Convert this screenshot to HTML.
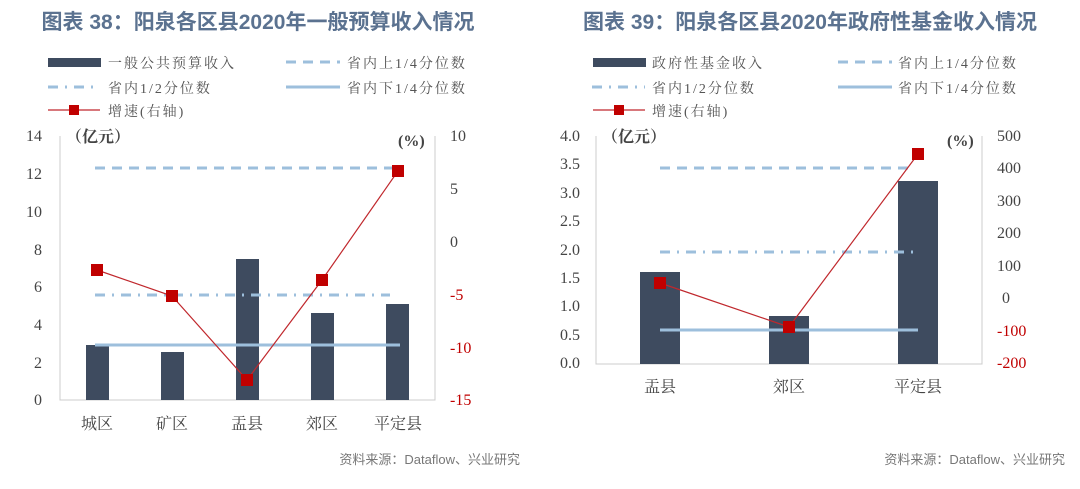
<!DOCTYPE html>
<html><head><meta charset="utf-8"><style>
body{margin:0;background:#fff;}
svg{display:block;font-family:"Liberation Serif","Noto Serif CJK SC",serif;}
.t{font-family:"Liberation Sans","Noto Sans CJK SC",sans-serif;font-size:21px;fill:#5b7290;font-weight:bold}
.lg{font-size:14px;fill:#555;letter-spacing:2px}
.ax{font-size:16px;fill:#444}
.rd{fill:#c00000}
.src{font-family:"Liberation Sans","Noto Sans CJK SC",sans-serif;font-size:13px;fill:#777}
</style></head><body>
<svg width="1080" height="489" viewBox="0 0 1080 489">
<!-- LEFT -->
<text class="t" x="258" y="29" text-anchor="middle">图表 38：阳泉各区县2020年一般预算收入情况</text>
<rect x="48" y="58" width="53" height="9" fill="#3e4b5f"/><text class="lg" x="108" y="68">一般公共预算收入</text>
<line x1="286" y1="62" x2="340" y2="62" stroke="#9dbfdc" stroke-width="3" stroke-dasharray="10,7"/><text class="lg" x="347" y="68">省内上1/4分位数</text>
<line x1="48" y1="87" x2="100" y2="87" stroke="#9dbfdc" stroke-width="3" stroke-dasharray="10,7,2,7"/><text class="lg" x="108" y="93">省内1/2分位数</text>
<line x1="286" y1="87" x2="340" y2="87" stroke="#9dbfdc" stroke-width="3"/><text class="lg" x="347" y="93">省内下1/4分位数</text>
<line x1="48" y1="110" x2="100" y2="110" stroke="#c0282d" stroke-width="1.2"/><rect x="69" y="105" width="10" height="10" fill="#c00000"/><text class="lg" x="108" y="116">增速(右轴)</text>
<polyline points="60,136 60,400 435,400 435,136" fill="none" stroke="#ccc"/>
<g fill="#3e4b5f">
<rect x="86" y="345" width="23" height="55"/><rect x="161" y="352" width="23" height="48"/><rect x="236" y="259" width="23" height="141"/><rect x="311" y="313" width="23" height="87"/><rect x="386" y="304" width="23" height="96"/></g>
<line x1="95" y1="168" x2="400" y2="168" stroke="#9dbfdc" stroke-width="3" stroke-dasharray="10,7"/>
<line x1="95" y1="295" x2="390" y2="295" stroke="#9dbfdc" stroke-width="3" stroke-dasharray="10,7,2,7"/>
<line x1="95" y1="345" x2="400" y2="345" stroke="#9dbfdc" stroke-width="3"/>
<polyline points="97,270 172,296 247,380 322,280 398,171" fill="none" stroke="#c0282d" stroke-width="1.2"/>
<g fill="#c00000"><rect x="91" y="264" width="12" height="12"/><rect x="166" y="290" width="12" height="12"/><rect x="241" y="374" width="12" height="12"/><rect x="316" y="274" width="12" height="12"/><rect x="392" y="165" width="12" height="12"/></g>
<g class="ax" text-anchor="end"><text x="42" y="141">14</text><text x="42" y="179">12</text><text x="42" y="217">10</text><text x="42" y="255">8</text><text x="42" y="292">6</text><text x="42" y="330">4</text><text x="42" y="368">2</text><text x="42" y="405">0</text></g>
<g class="ax"><text x="450" y="141">10</text><text x="450" y="194">5</text><text x="450" y="247">0</text><text class="rd" x="450" y="300">-5</text><text class="rd" x="450" y="353">-10</text><text class="rd" x="450" y="405">-15</text></g>
<text class="ax" x="66" y="142" font-weight="bold">（亿元）</text><text class="ax" x="398" y="146" font-weight="bold">(%)</text>
<g class="ax" text-anchor="middle"><text x="97" y="429">城区</text><text x="172" y="429">矿区</text><text x="247" y="429">盂县</text><text x="322" y="429">郊区</text><text x="398" y="429">平定县</text></g>
<text class="src" x="520" y="464" text-anchor="end">资料来源：Dataflow、兴业研究</text>
<!-- RIGHT -->
<text class="t" x="810" y="29" text-anchor="middle">图表 39：阳泉各区县2020年政府性基金收入情况</text>
<rect x="593" y="58" width="53" height="9" fill="#3e4b5f"/><text class="lg" x="652" y="68">政府性基金收入</text>
<line x1="838" y1="62" x2="892" y2="62" stroke="#9dbfdc" stroke-width="3" stroke-dasharray="10,7"/><text class="lg" x="898" y="68">省内上1/4分位数</text>
<line x1="592" y1="87" x2="645" y2="87" stroke="#9dbfdc" stroke-width="3" stroke-dasharray="10,7,2,7"/><text class="lg" x="652" y="93">省内1/2分位数</text>
<line x1="838" y1="87" x2="892" y2="87" stroke="#9dbfdc" stroke-width="3"/><text class="lg" x="898" y="93">省内下1/4分位数</text>
<line x1="593" y1="110" x2="645" y2="110" stroke="#c0282d" stroke-width="1.2"/><rect x="614" y="105" width="10" height="10" fill="#c00000"/><text class="lg" x="652" y="116">增速(右轴)</text>
<polyline points="596,136 596,364 982,364 982,136" fill="none" stroke="#ccc"/>
<g fill="#3e4b5f"><rect x="640" y="272" width="40" height="92"/><rect x="769" y="316" width="40" height="48"/><rect x="898" y="181" width="40" height="183"/></g>
<line x1="660" y1="168" x2="915" y2="168" stroke="#9dbfdc" stroke-width="3" stroke-dasharray="10,7"/>
<line x1="660" y1="252" x2="915" y2="252" stroke="#9dbfdc" stroke-width="3" stroke-dasharray="10,7,2,7"/>
<line x1="660" y1="330" x2="918" y2="330" stroke="#9dbfdc" stroke-width="3"/>
<polyline points="660,283 789,327 918,154" fill="none" stroke="#c0282d" stroke-width="1.2"/>
<g fill="#c00000"><rect x="654" y="277" width="12" height="12"/><rect x="783" y="321" width="12" height="12"/><rect x="912" y="148" width="12" height="12"/></g>
<g class="ax" text-anchor="end"><text x="580" y="141">4.0</text><text x="580" y="169">3.5</text><text x="580" y="198">3.0</text><text x="580" y="226">2.5</text><text x="580" y="255">2.0</text><text x="580" y="283">1.5</text><text x="580" y="311">1.0</text><text x="580" y="340">0.5</text><text x="580" y="368">0.0</text></g>
<g class="ax"><text x="997" y="141">500</text><text x="997" y="173">400</text><text x="997" y="206">300</text><text x="997" y="238">200</text><text x="997" y="271">100</text><text x="1002" y="303">0</text><text class="rd" x="997" y="336">-100</text><text class="rd" x="997" y="368">-200</text></g>
<text class="ax" x="602" y="142" font-weight="bold">（亿元）</text><text class="ax" x="947" y="146" font-weight="bold">(%)</text>
<g class="ax" text-anchor="middle"><text x="660" y="392">盂县</text><text x="789" y="392">郊区</text><text x="918" y="392">平定县</text></g>
<text class="src" x="1065" y="464" text-anchor="end">资料来源：Dataflow、兴业研究</text>
</svg>
</body></html>
